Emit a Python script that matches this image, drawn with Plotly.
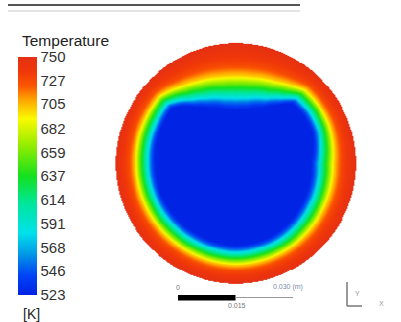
import numpy as np
import plotly.graph_objects as go

# ---------------- data ----------------
colorbar_title = "Temperature"
unit_label = "[K]"
tick_labels = [523, 546, 568, 591, 614, 637, 659, 682, 705, 727, 750]
t_min, t_max = 523, 750

wall_radius_mm = 31.3          # pipe wall radius
# width (mm) of the heated layer between the wall and the cold core, by angle (deg, ccw from +x)
layer_angle_deg = [0, 22, 35, 47, 55, 65, 80, 90, 100, 115, 125, 132, 139, 150, 165, 180, 210, 240, 270, 300, 330]
layer_width_mm = [9.9, 8.3, 8.1, 8.3, 10.7, 12.8, 14.3, 14.6, 14.3, 12.8, 11.2, 9.4, 7.8, 8.1, 8.3, 8.6, 8.6, 8.6, 8.3, 8.6, 9.4]
# temperature across the layer (fraction of layer depth from wall -> K)
depth_fraction = [0.0, 0.38, 0.48, 0.58, 0.68, 0.78, 0.88, 0.97, 1.05, 1.2]
depth_temperature = [750, 729, 716, 700, 670, 640, 612, 585, 555, 523]

scale_labels = ["0", "0.015", "0.030 (m)"]

# ---------------- field on a grid ----------------
PX = 3.833  # pixels per mm in the reference
xs = np.arange(-32.0, 32.01, 0.25)
ys = np.arange(-32.0, 32.01, 0.25)
X, Y = np.meshgrid(xs, ys)
R = np.hypot(X, Y)
TH = np.degrees(np.arctan2(Y, X)) % 360
ang = np.array(layer_angle_deg + [360])
wid = np.array(layer_width_mm + [layer_width_mm[0]])
W = np.interp(TH, ang, wid)
U = (wall_radius_mm - R) / W
Z = np.interp(U, depth_fraction, depth_temperature)
Z = np.where(R <= wall_radius_mm, Z, np.nan)

colorscale = [
    [0.0, "rgb(0,35,228)"],
    [0.08, "rgb(0,65,245)"],
    [0.17, "rgb(0,150,230)"],
    [0.26, "rgb(0,225,235)"],
    [0.38, "rgb(0,230,160)"],
    [0.50, "rgb(20,225,30)"],
    [0.62, "rgb(140,235,0)"],
    [0.74, "rgb(250,250,0)"],
    [0.82, "rgb(255,165,0)"],
    [0.88, "rgb(250,85,0)"],
    [0.94, "rgb(240,55,10)"],
    [1.0, "rgb(228,48,20)"],
]

W_FIG, H_FIG = 401, 322
cx, cy = 235.5, 163.0  # circle centre in pixels

fig = go.Figure()
fig.add_trace(go.Heatmap(
    x=xs, y=ys, z=Z, zmin=t_min, zmax=t_max, zsmooth="best",
    colorscale=colorscale, hoverinfo="skip",
    colorbar=dict(
        x=18 / W_FIG, xanchor="left", xpad=0,
        y=1 - 57 / H_FIG, yanchor="top", ypad=0,
        lenmode="pixels", len=238, thickness=19,
        outlinewidth=0, ticks="", ticklen=0,
        tickvals=tick_labels, ticktext=[str(v) for v in tick_labels],
        tickfont=dict(family="Liberation Sans, Arial", size=15, color="#333"),
    ),
))

def mx(px):
    return (px - cx) / PX

def my(py):
    return (cy - py) / PX

shapes = [
    dict(type="line", xref="paper", yref="paper", x0=8 / W_FIG, x1=300 / W_FIG,
         y0=1 - 5 / H_FIG, y1=1 - 5 / H_FIG, line=dict(color="#555", width=2)),
    dict(type="line", xref="paper", yref="paper", x0=8 / W_FIG, x1=300 / W_FIG,
         y0=1 - 11 / H_FIG, y1=1 - 11 / H_FIG, line=dict(color="#e4e4e4", width=2)),
    # scale bar
    dict(type="rect", x0=-15, x1=0, y0=my(295), y1=my(300.5), fillcolor="black", line=dict(width=0)),
    dict(type="line", x0=0, x1=15, y0=my(297.5), y1=my(297.5), line=dict(color="#999", width=1)),
    # axis triad
    dict(type="line", x0=mx(347), x1=mx(347), y0=my(282), y1=my(306), line=dict(color="#777", width=1.5)),
    dict(type="line", x0=mx(347), x1=mx(362), y0=my(306), y1=my(306), line=dict(color="#777", width=1.5)),
]

font = dict(family="Liberation Sans, Arial", color="#222")
annotations = [
    dict(text=colorbar_title, xref="paper", yref="paper", x=20 / W_FIG, y=1 - 41 / H_FIG,
         xanchor="left", yanchor="middle", showarrow=False, font=dict(**font, size=15.5)),
    dict(text=unit_label, xref="paper", yref="paper", x=21 / W_FIG, y=1 - 314 / H_FIG,
         xanchor="left", yanchor="middle", showarrow=False, font=dict(**font, size=14)),
    dict(text=scale_labels[0], x=-15, y=my(287), showarrow=False, xanchor="center", yanchor="middle",
         font=dict(family="Liberation Sans", size=7, color="#777")),
    dict(text=scale_labels[1], x=0.4, y=my(305), showarrow=False, xanchor="center", yanchor="middle",
         font=dict(family="Liberation Sans", size=7, color="#777")),
    dict(text=scale_labels[2], x=mx(288), y=my(287), showarrow=False, xanchor="center", yanchor="middle",
         font=dict(family="Liberation Sans", size=7, color="#7a8aa8")),
    dict(text="Y", x=mx(357), y=my(293), showarrow=False, font=dict(family="Liberation Sans", size=7, color="#999")),
    dict(text="X", x=mx(381), y=my(303), showarrow=False, font=dict(family="Liberation Sans", size=7, color="#999")),
]

fig.update_layout(
    width=W_FIG, height=H_FIG, margin=dict(l=0, r=0, t=0, b=0),
    paper_bgcolor="white", plot_bgcolor="white",
    xaxis=dict(range=[mx(0), mx(W_FIG)], visible=False, domain=[0, 1], fixedrange=True),
    yaxis=dict(range=[my(H_FIG), my(0)], visible=False, domain=[0, 1], fixedrange=True),
    shapes=shapes, annotations=annotations, showlegend=False,
)
fig.write_html("out.html")
